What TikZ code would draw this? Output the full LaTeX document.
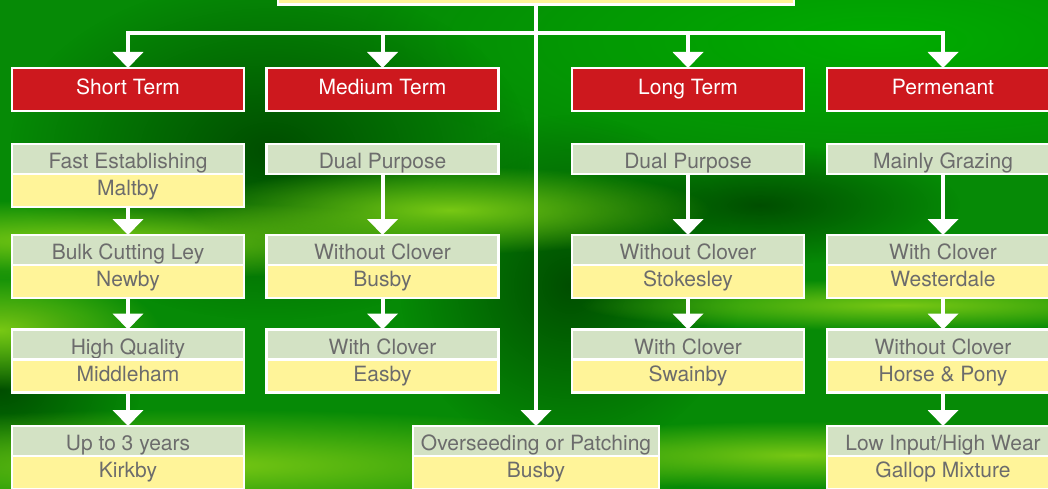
\documentclass[tikz,border=0pt]{standalone}
\usepackage{fontspec}
\setmainfont{TeX Gyre Heros}
\usetikzlibrary{positioning,arrows.meta,fadings}
\definecolor{termred}{RGB}{205,24,30}
\definecolor{sagebox}{RGB}{211,226,196}
\definecolor{strawbox}{RGB}{255,244,153}
\definecolor{labelgray}{RGB}{108,108,108}
\definecolor{grassmid}{RGB}{6,138,6}
\definecolor{grassdark}{RGB}{0,78,0}
\definecolor{grasslight}{RGB}{120,200,20}
\definecolor{grassbright}{RGB}{0,172,0}
\tikzfading[name=grassfade,inner color=transparent!0,outer color=transparent!100]
\begin{document}
\begin{tikzpicture}[x=1pt,y=-1pt,
	font=\fontsize{21}{25}\selectfont,
	box/.style={draw=white,line width=2.5pt,outer sep=0pt,minimum width=232pt,inner sep=0pt},
	term/.style={box,fill=termred,text=white,minimum height=43pt,text height=15pt,text depth=5pt},
	kind/.style={box,fill=sagebox,text=labelgray,minimum height=30pt,text height=19pt,text depth=0pt},
	mix/.style={box,fill=strawbox,text=labelgray,minimum height=33pt,text height=15pt,text depth=4.3pt},
	flow/.style={draw=white,line width=4pt,-{Triangle[width=30pt,length=16pt]}},
	haze/.style={path fading=grassfade}]
	\useasboundingbox (0,0) rectangle (1048,489);
	\clip (0,0) rectangle (1048,489);
	\fill[grassmid] (0,0) rectangle (1048,489);
	\fill[grassbright,haze] (880,40) ellipse (520 and 140);
	\fill[grassdark,haze] (270,150) ellipse (260 and 170);
	\fill[grassdark,haze] (570,285) ellipse (170 and 170);
	\fill[grassdark,haze] (760,205) ellipse (200 and 60);
	\fill[grassdark,haze] (0,390) ellipse (140 and 90);
	\fill[grasslight,haze] (80,240) ellipse (420 and 40);
	\fill[grasslight,haze] (450,210) ellipse (260 and 44);
	\fill[grasslight,haze] (900,305) ellipse (320 and 26);
	\fill[grasslight,haze] (200,465) ellipse (520 and 56);
	\fill[grasslight,haze] (800,455) ellipse (320 and 34);
	\fill[grasslight,haze] (0,330) ellipse (160 and 60);
	\node[box,fill=strawbox,minimum width=516pt,minimum height=69pt] (plan) at (536,-30) {};
	\node[term] (short) at (128,89.5) {Short Term};
	\node[term] (medium) at (382.5,89.5) {Medium Term};
	\node[term] (long) at (688,89.5) {Long Term};
	\node[term] (perm) at (943,89.5) {Permenant};
	\node[kind] (fast) at (128,159) {Fast Establishing};
	\node[mix,below=0pt of fast] (maltby) {Maltby};
	\node[kind] (bulk) at (128,250) {Bulk Cutting Ley};
	\node[mix,below=0pt of bulk] (newby) {Newby};
	\node[kind] (high) at (128,344.5) {High Quality};
	\node[mix,below=0pt of high] (middleham) {Middleham};
	\node[kind] (upto) at (128,441) {Up to 3 years};
	\node[mix,below=0pt of upto] (kirkby) {Kirkby};
	\node[kind] (dualmed) at (382.5,159) {Dual Purpose};
	\node[kind] (withoutmed) at (382.5,250) {Without Clover};
	\node[mix,below=0pt of withoutmed] (busby) {Busby};
	\node[kind] (withmed) at (382.5,344.5) {With Clover};
	\node[mix,below=0pt of withmed] (easby) {Easby};
	\node[kind,minimum width=246pt] (over) at (536,441) {Overseeding or Patching};
	\node[mix,minimum width=246pt,below=0pt of over] (overbusby) {Busby};
	\node[kind] (duallong) at (688,159) {Dual Purpose};
	\node[kind] (withoutlong) at (688,250) {Without Clover};
	\node[mix,below=0pt of withoutlong] (stokesley) {Stokesley};
	\node[kind] (withlong) at (688,344.5) {With Clover};
	\node[mix,below=0pt of withlong] (swainby) {Swainby};
	\node[kind] (grazing) at (943,159) {Mainly Grazing};
	\node[kind] (withperm) at (943,250) {With Clover};
	\node[mix,below=0pt of withperm] (westerdale) {Westerdale};
	\node[kind] (withoutperm) at (943,344.5) {Without Clover};
	\node[mix,below=0pt of withoutperm] (horse) {Horse \& Pony};
	\node[kind] (lowinput) at (943,441) {Low Input/High Wear};
	\node[mix,below=0pt of lowinput] (gallop) {Gallop Mixture};
	\coordinate (hub) at (536,33);
	\draw[flow] (plan.south) -- (over.north);
	\draw[flow] (hub) -| (short.north);
	\draw[flow] (hub) -| (medium.north);
	\draw[flow] (hub) -| (long.north);
	\draw[flow] (hub) -| (perm.north);
	\draw[flow] (maltby) -- (bulk);
	\draw[flow] (newby) -- (high);
	\draw[flow] (middleham) -- (upto);
	\draw[flow] (dualmed) -- (withoutmed);
	\draw[flow] (busby) -- (withmed);
	\draw[flow] (duallong) -- (withoutlong);
	\draw[flow] (stokesley) -- (withlong);
	\draw[flow] (grazing) -- (withperm);
	\draw[flow] (westerdale) -- (withoutperm);
	\draw[flow] (horse) -- (lowinput);
\end{tikzpicture}
\end{document}
